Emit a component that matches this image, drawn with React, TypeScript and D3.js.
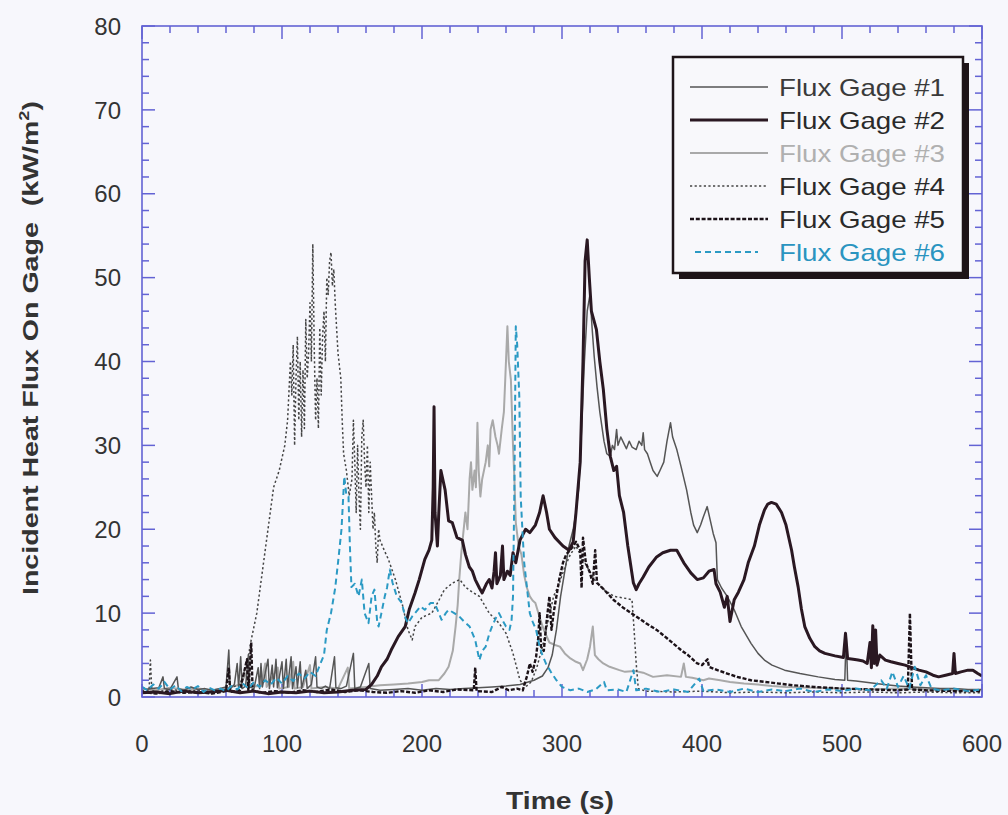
import React from "react";
import * as d3 from "d3";

// Incident heat flux records, [time (s), flux (kW/m²)]
const gage1: [number, number][] = [
  [0, 1.2], [3, 0.9], [7, 1.0], [12, 1.1], [15, 2.4], [16, 1.0], [20, 0.9], [25, 2.4], [26, 1.0], [30, 0.8],
  [35, 1.2], [40, 0.9], [45, 1.0], [50, 0.8], [55, 1.0], [60, 1.2], [62, 5.6], [63, 1.0], [66, 1.5], [68, 4],
  [69, 1.2], [70.5, 4.8], [71.5, 1.0], [74, 1.3], [76, 5], [77, 1.2], [80, 1.0], [83, 3.5], [84, 1.0], [85, 4],
  [86, 1.2], [90, 4.5], [91, 1.0], [93, 3.8], [94, 1.2], [95.7, 4.5], [96.7, 1.1], [100, 4.2], [101, 1.0],
  [103, 4.5], [104, 1.2], [106.5, 4.8], [107.5, 1.0], [110, 3.6], [111, 1.1], [113, 4.2], [114, 1.0], [117, 3.2],
  [118, 1.0], [121, 1.5], [124, 4.8], [125, 1.2], [128, 1.0], [131, 1.3], [134, 1.0], [137.5, 4.8], [138.5, 1.1],
  [142, 1.0], [146, 1.3], [151, 5.2], [152, 1.0], [156, 1.2], [162, 4], [163, 1.0], [170, 0.8], [180, 0.9],
  [190, 1.0], [200, 0.8], [210, 1.0], [220, 0.9], [230, 1.0], [240, 1.1], [250, 1.2], [260, 1.3], [270, 1.5],
  [280, 2], [286, 2.5], [290, 3.5], [293, 5], [296, 8], [299, 12], [302, 15], [305, 18], [308, 20], [310, 22],
  [312, 25], [314, 32], [316, 40], [318, 46], [320, 48], [321.5, 44], [323, 40.6], [325, 37], [327, 34],
  [330, 30.5], [332, 29], [334.5, 28.7], [336, 30], [337.5, 29.5], [339, 31.9], [340, 30], [342, 31],
  [344, 30.3], [346, 29.6], [348, 30.5], [350, 29.8], [353, 29.5], [355, 30.5], [357, 30], [358, 31.5],
  [359, 29.5], [361, 29], [363, 28], [365, 27], [368, 26.3], [370, 27], [372.7, 28], [375, 30.5], [377.5, 32.7],
  [379, 31], [382, 29.5], [385, 27.5], [389, 24.7], [392, 22], [394, 20.5], [396.6, 19.6], [399, 20.5],
  [401, 21.5], [403.7, 22.7], [406, 21], [408, 19.5], [410, 18.4], [411, 14], [414, 13], [418, 12], [423, 10.4],
  [428, 8.4], [435, 6.4], [440, 5.2], [444.6, 4.4], [450, 3.8], [459, 3.2], [470, 2.8], [483, 2.4], [495, 2.1],
  [502, 2.0], [503, 7.5], [504, 2.0], [510, 1.9], [520, 1.7], [530, 1.5], [540, 1.3], [550, 1.2], [560, 1.1],
  [570, 1.0], [580, 1.0], [590, 0.9], [600, 0.9],
];

const gage2: [number, number][] = [
  [0, 0.5], [10, 0.6], [20, 0.4], [30, 0.7], [40, 0.5], [50, 0.6], [60, 0.8], [70, 0.5], [80, 0.7], [90, 0.4],
  [100, 0.6], [110, 0.5], [120, 0.7], [130, 0.5], [140, 0.6], [150, 0.8], [160, 0.9], [164, 1.5], [168, 2.5],
  [171, 3.6], [175, 4.5], [178, 5.6], [183, 7.2], [188, 8.4], [191, 10.5], [195, 12.4], [198, 14], [202, 16.4],
  [205, 17.5], [207, 18.7], [208, 25], [208.6, 34.6], [209.3, 22], [211, 18], [212, 22], [213.5, 27],
  [216.5, 24.7], [219, 21], [221.6, 20.8], [225, 19], [228.8, 18.7], [231, 17], [233.8, 15.5], [236, 15],
  [238, 14], [241, 13], [243, 12.4], [246, 13.5], [248, 14], [250, 13], [251.5, 15], [252.5, 17.2],
  [253.5, 13.5], [256, 14.5], [257.5, 18], [258.5, 14], [261, 15], [263, 14.5], [265, 17.2], [267, 16],
  [270, 18.7], [274, 20], [277, 19.6], [281, 20.5], [284, 22], [286.5, 24], [289, 22], [291, 20], [295, 19],
  [300.7, 18], [305, 17.5], [308, 18.5], [310, 22], [313, 28], [315, 40], [316.5, 52], [318, 54.5],
  [319.5, 50], [321, 46], [324.6, 43.8], [327, 40], [329.5, 36.7], [332, 32], [334.5, 28.7], [337, 27],
  [339, 27.5], [341, 24], [344, 22], [347, 18], [351, 13.6], [353, 12.8], [355, 13.5], [358, 14.3], [362, 15.5],
  [367.6, 16.7], [372, 17.2], [377.5, 17.5], [382, 17.5], [387, 16], [392, 14.8], [396.6, 14], [401, 14.2],
  [405, 15], [408.6, 15.2], [410, 13.5], [413, 12.5], [416, 10.7], [418, 12], [420, 9], [423, 11.6],
  [426, 12.5], [430, 14], [433, 16], [437.4, 18], [441, 20.5], [444.6, 22.3], [447, 23], [449.6, 23.2],
  [453, 23], [456.8, 22], [460, 20.5], [464, 17.5], [466, 15.5], [468.7, 13.1], [471, 10.5], [473.4, 8.4],
  [477, 7], [480.6, 6], [484, 5.5], [487.8, 5.2], [495, 4.9], [501, 4.7], [502.5, 7.6], [504, 4.6], [508, 4.5],
  [511.5, 4.4], [515, 4.3], [518, 4.0], [520, 6.5], [521, 3.5], [522, 8.5], [523, 4], [524, 8], [525, 3.8],
  [527, 5], [531, 4.4], [535, 4.2], [540, 4], [545, 3.8], [550, 3.5], [555, 3.2], [560, 3.0], [565, 2.6],
  [569, 2.4], [574, 2.6], [579, 2.8], [580, 5.2], [581, 2.8], [585, 3.0], [590, 3.2], [593.5, 3.2], [597, 2.8],
  [600, 2.5],
];

const gage3: [number, number][] = [
  [0, 1.0], [10, 0.8], [20, 1.1], [30, 0.9], [40, 1.0], [50, 0.8], [60, 1.0], [70, 1.5], [75, 3], [76, 1.2],
  [85, 1.3], [88, 4], [89, 1.2], [97, 3.5], [98, 1.0], [105, 1.2], [108, 4.2], [109, 1.0], [115, 1.2],
  [120, 3.8], [121, 1.0], [130, 1.2], [140, 1.0], [147, 3.5], [148, 1.0], [160, 1.2], [170, 1.4], [180, 1.5],
  [190, 1.6], [200, 1.8], [205, 2.0], [212, 2.0], [216, 2.8], [219, 3.6], [222, 5.5], [224, 8.4], [225.5, 11],
  [226.6, 14], [228, 17], [229, 18.7], [231, 22], [232.5, 20], [234, 26], [235, 28], [236, 24.7], [237.5, 27],
  [238.5, 25], [239.6, 32.7], [240.5, 27], [241.7, 23.9], [243, 26], [245.5, 28], [247, 30], [248, 27.5],
  [249, 31.9], [250.5, 33], [252.5, 31], [254, 30], [255, 29], [257, 32], [258.5, 34], [259.5, 38], [261, 44.2],
  [262, 40], [263.5, 37.8], [265, 30], [266, 26], [267, 20.8], [269, 18], [271, 17], [273, 14.5], [275, 13],
  [277, 12], [279, 11.5], [281, 11.2], [284, 9.5], [287, 8], [291, 6.5], [295, 6.2], [298.5, 6], [302, 5.2],
  [306, 4.6], [310, 4.2], [313, 4], [315, 3.2], [318, 4.5], [320, 6], [322, 8.4], [323.5, 5], [326, 4.5],
  [329.5, 4], [334, 3.6], [341, 3.2], [345, 3.0], [352, 3.1], [358, 2.9], [365, 2.4], [375, 2.6], [385, 2.4],
  [387, 4], [388.5, 2.4], [393, 2.3], [401, 2.0], [405, 2.2], [413, 2.0], [420, 1.8], [430, 1.6], [440, 1.5],
  [450, 1.3], [460, 1.2], [480, 1.1], [500, 1.0], [520, 0.9], [540, 1.0], [560, 0.9], [580, 0.8], [600, 0.8],
];

const gage4: [number, number][] = [
  [0, 0.8], [5, 0.7], [6, 4.4], [7, 0.8], [10, 0.6], [20, 0.9], [30, 0.7], [40, 0.8], [50, 0.6], [60, 0.9],
  [70, 1.5], [75, 4], [78, 6.8], [82, 10], [86, 15], [90, 20], [94, 25], [98, 27], [102, 30], [104, 33],
  [106, 40], [107, 36], [108, 42], [109, 30], [110, 38], [111, 43], [112, 33], [113, 40], [114, 31], [115, 39],
  [116, 32], [117, 45], [118, 38], [119, 41], [120, 47], [121, 40], [122, 54], [123, 42], [124, 33], [125, 38],
  [126, 32], [127, 44], [128, 36], [129, 43], [130, 46], [131, 40], [132, 50], [133, 48], [134, 52], [135, 53],
  [136, 49], [137, 51], [138, 47], [139, 44], [140, 41], [142, 38], [143, 33], [144, 29], [146, 27], [148, 24],
  [150, 26], [151, 33], [152, 28], [153, 22], [154, 30], [155, 24], [156, 20], [157, 31], [158, 33], [159, 28],
  [160, 25], [161, 30], [162, 22], [163, 28], [164, 24], [165, 20], [166, 22], [167, 18], [168, 16], [169, 20],
  [170, 18.7], [173, 17.5], [176, 16.4], [181, 14], [186, 11], [190, 8], [193, 6.8], [195, 8.4], [200, 9.5],
  [207, 10], [212, 11.5], [216, 12.8], [222, 13.6], [227, 14], [231, 13.1], [236, 12.5], [241, 12], [248, 10],
  [255, 8.8], [260, 7.6], [265, 5.2], [270, 2], [274, 1.2], [278, 1.8], [282, 3.5], [286, 6], [290, 9],
  [294, 12], [298, 13.5], [302, 15.5], [306, 17], [310, 18], [313, 17], [318, 15.5], [324, 13.8], [330, 12.8],
  [337, 12], [344, 11.8], [350, 11.6], [351.5, 8], [353, 4], [354.5, 1], [360, 0.7], [380, 0.6], [400, 0.7],
  [420, 0.5], [440, 0.6], [460, 0.5], [480, 0.6], [500, 0.5], [520, 0.6], [540, 0.5], [560, 0.6], [580, 0.5],
  [600, 0.5],
];

const gage5: [number, number][] = [
  [0, 0.6], [10, 0.4], [20, 0.7], [30, 0.5], [40, 0.6], [50, 0.4], [60, 0.7], [62, 3.5], [63, 0.6], [70, 0.8],
  [75, 4.5], [76, 0.7], [78, 6.5], [79, 0.8], [85, 0.5], [95, 0.7], [105, 0.5], [115, 0.8], [125, 0.6],
  [135, 0.9], [145, 0.6], [155, 0.8], [165, 0.6], [175, 0.5], [185, 0.7], [195, 0.5], [205, 0.8], [215, 0.6],
  [225, 0.9], [237, 0.8], [238, 3.5], [239, 0.7], [250, 0.6], [257, 1.2], [262, 0.8], [268, 1.0], [272, 0.8],
  [275, 2.5], [277, 4], [279, 3], [281.5, 4.8], [283, 7], [284, 10], [285, 6], [287, 5.5], [289, 9], [291, 12],
  [292.5, 8], [294, 10], [296, 12], [298, 14], [300.7, 16], [303, 17], [305.7, 17.5], [308, 18], [310, 18.5],
  [313, 17.5], [314, 13], [315, 19], [317, 16], [320, 14.8], [322, 13.5], [323.7, 17.5], [325, 13.6],
  [330, 12.8], [336.7, 11.6], [344, 10.6], [353, 9.6], [360, 8.8], [367.6, 8], [375, 7], [385, 5.6], [390, 5],
  [396.6, 4], [400, 3.8], [404, 4.5], [405, 3.6], [411, 3.2], [418, 2.8], [425, 2.4], [435, 2.0], [445, 1.8],
  [455, 1.6], [465, 1.4], [480, 1.2], [500, 1.0], [520, 0.9], [540, 0.8], [547, 0.9], [548.5, 10], [550, 0.9],
  [560, 0.8], [580, 0.7], [600, 0.7],
];

const gage6: [number, number][] = [
  [0, 1.2], [4, 0.8], [8, 1.5], [12, 1.0], [16, 1.8], [20, 0.9], [24, 1.4], [28, 0.7], [32, 1.2], [36, 0.9],
  [40, 1.3], [44, 0.6], [48, 1.1], [52, 0.8], [56, 1.0], [60, 0.7], [64, 1.3], [68, 0.9], [72, 1.6], [76, 1.0],
  [80, 1.8], [84, 1.2], [88, 2.0], [92, 1.5], [96, 2.3], [100, 1.6], [104, 2.5], [108, 1.9], [112, 2.8],
  [116, 2.2], [120, 3.0], [124, 2.5], [127, 3.8], [130, 5], [132, 8], [135, 10], [138, 13], [140, 16],
  [142.5, 20], [144.5, 26.3], [146, 24], [147.5, 23.9], [148.5, 18], [149.6, 13.1], [152, 13.5], [154.7, 12],
  [157, 14], [159, 10], [161.8, 8.8], [164, 12], [166, 12.8], [168, 9], [169, 8.4], [171, 10], [173.4, 12],
  [175, 13], [177, 15.2], [179, 13.6], [182, 12], [185.6, 11.2], [188, 9.5], [190, 8.8], [193, 9.6], [195, 10],
  [199, 10.8], [202, 10.4], [206, 11.2], [209, 11.2], [212, 10], [214, 9.2], [217, 10], [219, 10.4], [223, 10],
  [226.6, 9.6], [230, 9], [234, 8.4], [238, 6.8], [241, 4.4], [243, 5.5], [245.5, 6], [248, 7.5], [250, 8.4],
  [253, 9.5], [255, 10], [258, 9], [260, 8.4], [262.5, 8], [264, 9.2], [265, 12], [266, 25], [267, 44.2],
  [268, 42], [269.5, 35.8], [270.5, 23.9], [272, 19], [273, 16], [275, 13], [277, 10], [279, 9], [281.5, 8],
  [284, 6], [286, 5], [288.5, 4], [292, 3], [296, 2], [300, 1.2], [306, 0.8], [312, 1.0], [318, 0.6], [324, 0.9],
  [330, 1.8], [332, 0.8], [340, 0.9], [346, 0.6], [351, 3.2], [353, 0.8], [360, 1.0], [370, 0.6], [380, 0.9],
  [390, 0.6], [398, 2.2], [401, 0.7], [410, 0.9], [420, 0.6], [430, 1.0], [440, 0.6], [450, 0.9], [460, 0.7],
  [470, 1.0], [480, 0.6], [490, 0.9], [500, 0.7], [510, 1.0], [520, 0.8], [528, 2.0], [532, 1.0], [536, 3.0],
  [540, 1.2], [544, 2.5], [548, 1.0], [552, 3.6], [556, 1.4], [560, 2.6], [564, 1.0], [570, 0.8], [580, 1.0],
  [590, 0.7], [600, 0.9],
];

const seriesNames = ["Flux Gage #1", "Flux Gage #2", "Flux Gage #3", "Flux Gage #4", "Flux Gage #5", "Flux Gage #6"];
const xTickValues = [0, 100, 200, 300, 400, 500, 600];
const yTickValues = [0, 10, 20, 30, 40, 50, 60, 70, 80];

const W = 1008;
const H = 815;
const left = 142, right = 982, top = 26, bottom = 697;
const FONT = "'Liberation Sans', Arial, Helvetica, sans-serif";
const AXIS = "#6363d4";

type Style = { stroke: string; width: number; dash?: string; text: string };
const styles: Style[] = [
  { stroke: "#555555", width: 1.5, text: "#3a3a3a" },
  { stroke: "#2a1822", width: 3, text: "#2a2a2a" },
  { stroke: "#a9a9a9", width: 2, text: "#b0b0b0" },
  { stroke: "#444444", width: 1.5, dash: "2.2,2.4", text: "#2a2a2a" },
  { stroke: "#1c1218", width: 2.4, dash: "4,1.8", text: "#2a2a2a" },
  { stroke: "#2b9ac4", width: 2, dash: "6,4", text: "#2a94c0" },
];

export default function App() {
  const x = d3.scaleLinear().domain([0, 600]).range([left, right]);
  const y = d3.scaleLinear().domain([0, 80]).range([bottom, top]);
  const line = d3
    .line<[number, number]>()
    .x((d) => x(d[0]))
    .y((d) => y(d[1]));

  const all = [gage1, gage2, gage3, gage4, gage5, gage6];
  const drawOrder = [2, 3, 0, 4, 1, 5];

  const xMinor = d3.range(0, 601, 20);
  const yMinor = d3.range(0, 81, 2);

  const legX = 673, legY = 57, legW = 290, legH = 216;
  const rowY = (i: number) => 87 + i * 33;

  return (
    <svg
      width={W}
      height={H}
      style={{ position: "absolute", left: 0, top: 0, background: "#f7f7fc" }}
      fontFamily={FONT}
    >
      <rect x={0} y={0} width={W} height={H} fill="#f7f7fc" />
      <defs>
        <clipPath id="plot-clip">
          <rect x={left} y={top} width={right - left} height={bottom - top} />
        </clipPath>
      </defs>

      {/* minor and major ticks on all four sides, pointing inward */}
      <g stroke={AXIS} strokeWidth={1.5}>
        {xMinor.map((t) => {
          const major = t % 100 === 0;
          const len = major ? 13 : 7;
          return (
            <g key={"xt" + t}>
              <line x1={x(t)} x2={x(t)} y1={bottom} y2={bottom - len} />
              <line x1={x(t)} x2={x(t)} y1={top} y2={top + len} />
            </g>
          );
        })}
        {yMinor.map((v) => {
          const major = v % 10 === 0;
          const len = major ? 13 : 7;
          return (
            <g key={"yt" + v}>
              <line x1={left} x2={left + len} y1={y(v)} y2={y(v)} />
              <line x1={right} x2={right - len} y1={y(v)} y2={y(v)} />
            </g>
          );
        })}
      </g>

      <g clipPath="url(#plot-clip)" fill="none" strokeLinejoin="round">
        {drawOrder.map((i) => (
          <path
            key={"s" + i}
            d={line(all[i]) ?? ""}
            stroke={styles[i].stroke}
            strokeWidth={styles[i].width}
            strokeDasharray={styles[i].dash}
          />
        ))}
      </g>

      <rect
        x={left}
        y={top}
        width={right - left}
        height={bottom - top}
        fill="none"
        stroke={AXIS}
        strokeWidth={1.6}
      />

      {/* tick labels */}
      <g fontSize={24} fill="#333">
        {xTickValues.map((t) => (
          <text key={"xl" + t} x={x(t)} y={752} textAnchor="middle">
            {t}
          </text>
        ))}
        {yTickValues.map((v) => (
          <text key={"yl" + v} x={121} y={y(v)} dy="0.36em" textAnchor="end">
            {v}
          </text>
        ))}
      </g>

      {/* axis titles */}
      <text
        x={560}
        y={809}
        textAnchor="middle"
        fontSize={24}
        fontWeight="bold"
        fill="#333"
        textLength={108}
        lengthAdjust="spacingAndGlyphs"
      >
        Time (s)
      </text>
      <text
        transform={`translate(38, 348) rotate(-90)`}
        textAnchor="middle"
        fontSize={22}
        fontWeight="bold"
        fill="#333"
        textLength={494}
        lengthAdjust="spacingAndGlyphs"
      >
        Incident Heat Flux On Gage{"\u00a0\u00a0"}(kW/m
        <tspan dy={-9} fontSize={14}>2</tspan>
        <tspan dy={9}>)</tspan>
      </text>

      {/* legend */}
      <rect x={legX + 6} y={legY + 6} width={legW} height={legH} fill="#1e1418" />
      <rect x={legX} y={legY} width={legW} height={legH} fill="#f8f8fb" stroke="#1e1418" strokeWidth={2.5} />
      {seriesNames.map((name, i) => (
        <g key={"lg" + i}>
          <line
            x1={i === 5 ? 695 : 690}
            x2={i === 5 ? 758 : 768}
            y1={rowY(i)}
            y2={rowY(i)}
            stroke={styles[i].stroke}
            strokeWidth={styles[i].width}
            strokeDasharray={styles[i].dash}
          />
          <text
            x={779}
            y={rowY(i) + 9}
            fontSize={24}
            fill={styles[i].text}
            textLength={166}
            lengthAdjust="spacingAndGlyphs"
          >
            {name}
          </text>
        </g>
      ))}
    </svg>
  );
}
